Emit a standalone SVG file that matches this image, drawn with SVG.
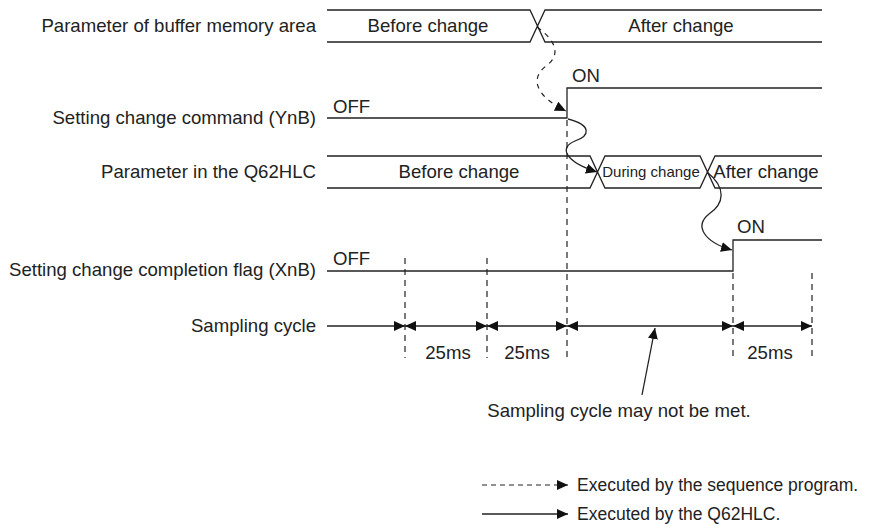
<svg xmlns="http://www.w3.org/2000/svg" width="876" height="526" viewBox="0 0 876 526">
<style>
text{font-family:"Liberation Sans",Arial,sans-serif;fill:#222;font-size:18.6px}
.lbl{text-anchor:end}
.mid{text-anchor:middle}
.leg{font-size:17.5px}
.ln{stroke:#222;stroke-width:1.3;fill:none}
.dash{stroke:#222;stroke-width:1.2;fill:none;stroke-dasharray:6,5}
.arr{stroke:#222;stroke-width:1.3;fill:none;marker-end:url(#ah)}
.dbl{stroke:#222;stroke-width:1.3;fill:none;marker-start:url(#ah);marker-end:url(#ah)}
</style>
<defs>
<marker id="ah" markerUnits="userSpaceOnUse" markerWidth="12" markerHeight="10" refX="11" refY="5" orient="auto-start-reverse">
<path d="M0,0 L11,5 L0,10 z" fill="#111"/>
</marker>
</defs>
<rect width="876" height="526" fill="#fff"/>
<g id="labels">
<text class="lbl" x="316" y="32">Parameter of buffer memory area</text>
<text class="lbl" x="316" y="124">Setting change command (YnB)</text>
<text class="lbl" x="316" y="178">Parameter in the Q62HLC</text>
<text class="lbl" x="316" y="276">Setting change completion flag (XnB)</text>
<text class="lbl" x="316" y="332">Sampling cycle</text>
</g>
<g id="buffer-param">
<path class="ln" d="M327,10 H530 L545,42 H822 M327,42 H530 L545,10 H822"/>
<text class="mid" x="428" y="32">Before change</text>
<text class="mid" x="681" y="32">After change</text>
</g>
<g id="ynb">
<path class="ln" d="M327,118 H567 V88 H822"/>
<text x="333" y="113">OFF</text>
<text x="572" y="82">ON</text>
</g>
<g id="q62hlc-param">
<path class="ln" d="M327,156 H590 L605,188 H700 L715,156 H822 M327,188 H590 L605,156 H700 L715,188 H822"/>
<text class="mid" x="459" y="178">Before change</text>
<text class="mid" x="651" y="177" style="font-size:15px">During change</text>
<text class="mid" x="766" y="178">After change</text>
</g>
<g id="xnb">
<path class="ln" d="M327,271 H733 V240 H822"/>
<text x="333" y="265">OFF</text>
<text x="737" y="233">ON</text>
</g>
<g id="sampling">
<path class="arr" d="M327,326 H405"/>
<path class="dbl" d="M405,326 H487"/>
<path class="dbl" d="M487,326 H567"/>
<path class="dbl" d="M567,326 H733"/>
<path class="dbl" d="M733,326 H812"/>
<text class="mid" x="448" y="359">25ms</text>
<text class="mid" x="527" y="359">25ms</text>
<text class="mid" x="770" y="359">25ms</text>
<text class="mid" x="619" y="417">Sampling cycle may not be met.</text>
</g>
<g id="connectors">
<path class="dash" d="M405,258 V358 M487,258 V358 M567,120 V358 M733,273 V358 M812,273 V358"/>
<path class="dash" style="marker-end:url(#ah);stroke-dasharray:5,5" d="M537,27 C558,42 560,56 546,66 C530,78 535,96 566,111"/>
<path class="arr" d="M568,119 C592,125 590,136 575,141 C558,148 566,162 597,172"/>
<path class="arr" d="M707,172 C727,188 724,204 709,214 C694,226 704,242 732,250"/>
<path class="arr" d="M642,395 L655,328"/>
</g>
<g id="legend">
<path class="dash" style="marker-end:url(#ah);stroke-dasharray:5,4" d="M482,485 H568"/>
<text class="leg" x="577" y="491">Executed by the sequence program.</text>
<path class="arr" d="M482,514 H568"/>
<text class="leg" x="577" y="520">Executed by the Q62HLC.</text>
</g>
</svg>
